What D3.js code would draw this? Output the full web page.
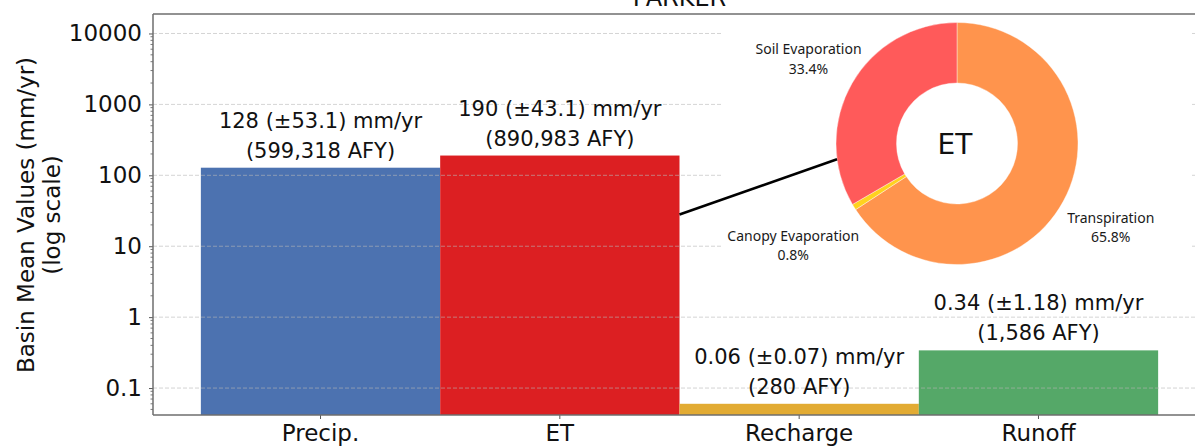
<!DOCTYPE html>
<html><head><meta charset="utf-8">
<script src="https://cdn.jsdelivr.net/npm/d3@7"></script>
<style>body{margin:0;background:#fff}svg{display:block}</style>
</head><body>
<svg id="c" width="1195" height="448"></svg>
<script>
// ---- data ----
const categories = ["Precip.", "ET", "Recharge", "Runoff"];
const meanValues = [128, 190, 0.06, 0.34];
const labelLine1 = ["128 (±53.1) mm/yr", "190 (±43.1) mm/yr", "0.06 (±0.07) mm/yr", "0.34 (±1.18) mm/yr"];
const labelLine2 = ["(599,318 AFY)", "(890,983 AFY)", "(280 AFY)", "(1,586 AFY)"];
const yTickValues = [0.1, 1, 10, 100, 1000, 10000];
const yTickLabels = ["0.1", "1", "10", "100", "1000", "10000"];
const etComponents = ["Transpiration", "Canopy Evaporation", "Soil Evaporation"];
const etPercents = [65.8, 0.8, 33.4];
const title = "PARKER";
const yTitle = ["Basin Mean Values (mm/yr)", "(log scale)"];
const connectorValue = 28; // y value where the connector leaves the ET bar

// ---- styles ----
const barColors = ["#4c72b0", "#dc1f22", "#e2ab33", "#55a868"];
const pieColors = ["#ff944d", "#ffd21f", "#ff5a5a"];
const labelDistance = [1.445, 1.59, 1.415];

const svg = d3.select("#c");
const L = 153, R = 1206, T = 14, B = 415;

const x = d3.scaleBand().domain(categories).range([L, R]).paddingInner(0).paddingOuter(0.2);
const y = d3.scaleLog().domain([0.0417, 18820]).range([B, T]);

// bars
svg.append("g").selectAll("rect").data(categories).join("rect")
  .attr("x", d => x(d)).attr("width", x.bandwidth())
  .attr("y", (d, i) => y(meanValues[i]))
  .attr("height", (d, i) => B - y(meanValues[i]))
  .attr("fill", (d, i) => barColors[i]);

// grid (on top of bars)
svg.append("g").selectAll("line").data(yTickValues).join("line")
  .attr("x1", L).attr("x2", R)
  .attr("y1", d => y(d)).attr("y2", d => y(d))
  .attr("stroke", "#b8b8b8").attr("stroke-opacity", 0.6)
  .attr("stroke-width", 1).attr("stroke-dasharray", "4,2");

// bar labels
const lab = svg.append("g").attr("font-family", "DejaVu Sans").attr("font-size", 21)
  .attr("text-anchor", "middle").attr("fill", "#111");
categories.forEach((c, i) => {
  const cx = x(c) + x.bandwidth() / 2, top = y(meanValues[i]);
  lab.append("text").attr("x", cx).attr("y", top - 40).text(labelLine1[i]);
  lab.append("text").attr("x", cx).attr("y", top - 10).text(labelLine2[i]);
});

// y axis
const yAxis = d3.axisLeft(y).tickValues(yTickValues)
  .tickFormat((d, i) => yTickLabels[i]).tickSize(4).tickPadding(7);
const gy = svg.append("g").attr("transform", `translate(${L},0)`).call(yAxis);
gy.select(".domain").remove();
gy.selectAll("text").attr("font-family", "DejaVu Sans").attr("font-size", 23).attr("fill", "#111");
gy.selectAll("line").attr("stroke", "#555");
// minor ticks
const minor = [];
for (let e = -2; e <= 4; e++) for (let m = 2; m <= 9; m++) {
  const v = m * Math.pow(10, e);
  if (v >= y.domain()[0] && v <= y.domain()[1]) minor.push(v);
}
svg.append("g").selectAll("line").data(minor).join("line")
  .attr("x1", L - 2.5).attr("x2", L).attr("y1", d => y(d)).attr("y2", d => y(d))
  .attr("stroke", "#555").attr("stroke-width", 0.8);

// x axis
const xAxis = d3.axisBottom(x).tickSize(4).tickPadding(6);
const gx = svg.append("g").attr("transform", `translate(0,${B})`).call(xAxis);
gx.select(".domain").remove();
gx.selectAll("text").attr("font-family", "DejaVu Sans").attr("font-size", 23).attr("fill", "#111");
gx.selectAll("line").attr("stroke", "#555");

// spines
const sp = svg.append("g").attr("stroke", "#6e6e6e").attr("stroke-width", 1.5).attr("fill", "none");
sp.append("line").attr("x1", L).attr("x2", L).attr("y1", T).attr("y2", B);
sp.append("line").attr("x1", L).attr("x2", R).attr("y1", T).attr("y2", T);
sp.append("line").attr("x1", L).attr("x2", R).attr("y1", B).attr("y2", B);

// title
svg.append("text").attr("x", (L + R) / 2).attr("y", 6).attr("text-anchor", "middle")
  .attr("font-family", "DejaVu Sans").attr("font-size", 24).attr("fill", "#111").text(title);

// y title
const yt = svg.append("text").attr("transform", "translate(34,215) rotate(-90)")
  .attr("text-anchor", "middle").attr("font-family", "DejaVu Sans").attr("font-size", 23).attr("fill", "#111");
yt.append("tspan").attr("x", 0).attr("dy", 0).text(yTitle[0]);
yt.append("tspan").attr("x", 0).attr("dy", 26).text(yTitle[1]);

// inset (donut)
svg.append("rect").attr("x", 722).attr("y", T + 1).attr("width", 470).attr("height", 258).attr("fill", "#fff");
const pcx = 957, pcy = 143.5, rOut = 121, rIn = 60.5;
const pie = d3.pie().sort(null).value(d => d)(etPercents);
const arc = d3.arc().innerRadius(rIn).outerRadius(rOut);
const pg = svg.append("g").attr("transform", `translate(${pcx},${pcy})`);
pg.selectAll("path").data(pie).join("path").attr("d", arc)
  .attr("fill", (d, i) => pieColors[i]).attr("stroke", "#fff").attr("stroke-width", 0.4);
pg.append("text").attr("x", -2).attr("y", 10.5).attr("text-anchor", "middle")
  .attr("font-family", "DejaVu Sans").attr("font-size", 28).attr("fill", "#111").text("ET");
pie.forEach((d, i) => {
  const a = (d.startAngle + d.endAngle) / 2, rr = rOut * labelDistance[i];
  const px = Math.sin(a) * rr, py = -Math.cos(a) * rr;
  const t = pg.append("text").attr("text-anchor", "middle").attr("font-family", "Noto Sans")
    .attr("font-size", 14).attr("fill", "#1a1a1a");
  t.append("tspan").attr("x", px).attr("y", py - 4).text(etComponents[i]);
  t.append("tspan").attr("x", px).attr("y", py + 15.5).text(etPercents[i].toFixed(1) + "%");
});

// connector
const ang = 262.5 * Math.PI / 180;
svg.append("line")
  .attr("x1", x("ET") + x.bandwidth()).attr("y1", y(connectorValue))
  .attr("x2", pcx + Math.sin(ang) * rOut).attr("y2", pcy - Math.cos(ang) * rOut)
  .attr("stroke", "#000").attr("stroke-width", 2.5);
</script>
</body></html>
